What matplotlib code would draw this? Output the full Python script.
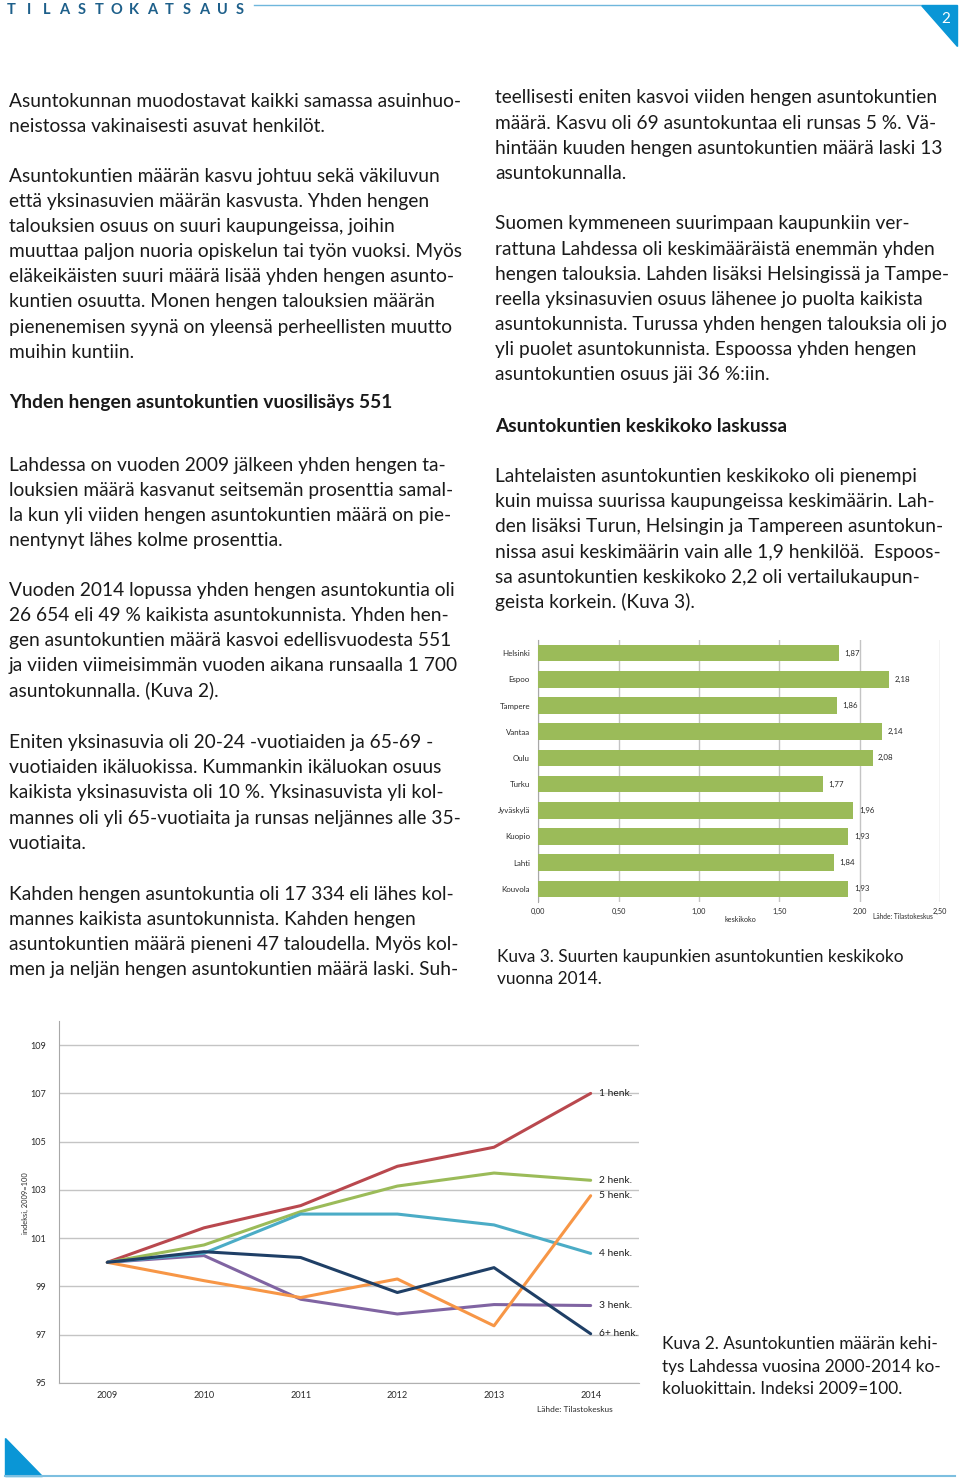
import matplotlib
matplotlib.use("Agg")
import matplotlib.pyplot as plt
from matplotlib.patches import Polygon

W, H = 960, 1479
FONT = ["Lato", "DejaVu Sans"]

# ---------------- data ----------------
cities = ["Helsinki", "Espoo", "Tampere", "Vantaa", "Oulu", "Turku",
          "Jyväskylä", "Kuopio", "Lahti", "Kouvola"]
avg_size = [1.87, 2.18, 1.86, 2.14, 2.08, 1.77, 1.96, 1.93, 1.84, 1.93]
bar_xticks = [0.0, 0.5, 1.0, 1.5, 2.0, 2.5]
bar_xticklabels = ["0,00", "0,50", "1,00", "1,50", "2,00", "2,50"]

years = [2009, 2010, 2011, 2012, 2013, 2014]
idx_1 = [100, 101.43, 102.35, 103.98, 104.77, 107.0]
idx_2 = [100, 100.72, 102.1, 103.16, 103.7, 103.4]
idx_3 = [100, 100.28, 98.47, 97.86, 98.25, 98.21]
idx_4 = [100, 100.38, 102.0, 102.0, 101.55, 100.37]
idx_5 = [100, 99.24, 98.54, 99.31, 97.37, 102.76]
idx_6 = [100, 100.44, 100.2, 98.75, 99.78, 97.04]
series_labels = ["1 henk.", "2 henk.", "3 henk.", "4 henk.", "5 henk.", "6+ henk."]
line_yticks = [95, 97, 99, 101, 103, 105, 107, 109]

left_col = [
    "Asuntokunnan muodostavat kaikki samassa asuinhuo-",
    "neistossa vakinaisesti asuvat henkilöt.",
    "",
    "Asuntokuntien määrän kasvu johtuu sekä väkiluvun",
    "että yksinasuvien määrän kasvusta. Yhden hengen",
    "talouksien osuus on suuri kaupungeissa, joihin",
    "muuttaa paljon nuoria opiskelun tai työn vuoksi. Myös",
    "eläkeikäisten suuri määrä lisää yhden hengen asunto-",
    "kuntien osuutta. Monen hengen talouksien määrän",
    "pienenemisen syynä on yleensä perheellisten muutto",
    "muihin kuntiin.",
]
left_head = "Yhden hengen asuntokuntien vuosilisäys 551"
left_col2 = [
    ("Lahdessa on vuoden 2009 jälkeen yhden hengen ta-", 470.7),
    ("louksien määrä kasvanut seitsemän prosenttia samal-", 495.8),
    ("la kun yli viiden hengen asuntokuntien määrä on pie-", 520.9),
    ("nentynyt lähes kolme prosenttia.", 546.0),
    ("Vuoden 2014 lopussa yhden hengen asuntokuntia oli", 595.6),
    ("26 654 eli 49 % kaikista asuntokunnista. Yhden hen-", 620.7),
    ("gen asuntokuntien määrä kasvoi edellisvuodesta 551", 645.8),
    ("ja viiden viimeisimmän vuoden aikana runsaalla 1 700", 670.9),
    ("asuntokunnalla. (Kuva 2).", 696.0),
    ("Eniten yksinasuvia oli 20-24 -vuotiaiden ja 65-69 -", 748.3),
    ("vuotiaiden ikäluokissa. Kummankin ikäluokan osuus", 773.4),
    ("kaikista yksinasuvista oli 10 %. Yksinasuvista yli kol-", 798.5),
    ("mannes oli yli 65-vuotiaita ja runsas neljännes alle 35-", 823.6),
    ("vuotiaita.", 848.7),
    ("Kahden hengen asuntokuntia oli 17 334 eli lähes kol-", 900.0),
    ("mannes kaikista asuntokunnista. Kahden hengen", 925.1),
    ("asuntokuntien määrä pieneni 47 taloudella. Myös kol-", 950.2),
    ("men ja neljän hengen asuntokuntien määrä laski. Suh-", 975.3),
]
right_col = [
    ("teellisesti eniten kasvoi viiden hengen asuntokuntien", 103.5),
    ("määrä. Kasvu oli 69 asuntokuntaa eli runsas 5 %. Vä-", 128.6),
    ("hintään kuuden hengen asuntokuntien määrä laski 13", 153.7),
    ("asuntokunnalla.", 178.8),
    ("Suomen kymmeneen suurimpaan kaupunkiin ver-", 229.5),
    ("rattuna Lahdessa oli keskimääräistä enemmän yhden", 254.6),
    ("hengen talouksia. Lahden lisäksi Helsingissä ja Tampe-", 279.7),
    ("reella yksinasuvien osuus lähenee jo puolta kaikista", 304.8),
    ("asuntokunnista. Turussa yhden hengen talouksia oli jo", 329.9),
    ("yli puolet asuntokunnista. Espoossa yhden hengen", 355.0),
    ("asuntokuntien osuus jäi 36 %:iin.", 380.1),
    ("Lahtelaisten asuntokuntien keskikoko oli pienempi", 482.0),
    ("kuin muissa suurissa kaupungeissa keskimäärin. Lah-", 507.2),
    ("den lisäksi Turun, Helsingin ja Tampereen asuntokun-", 532.4),
    ("nissa asui keskimäärin vain alle 1,9 henkilöä.  Espoos-", 557.6),
    ("sa asuntokuntien keskikoko 2,2 oli vertailukaupun-", 582.8),
    ("geista korkein. (Kuva 3).", 608.0),
]
right_head = "Asuntokuntien keskikoko laskussa"
cap3 = ["Kuva 3. Suurten kaupunkien asuntokuntien keskikoko", "vuonna 2014."]
cap2 = ["Kuva 2. Asuntokuntien määrän kehi-", "tys Lahdessa vuosina 2000-2014 ko-",
        "koluokittain. Indeksi 2009=100."]
header = "TILASTOKATSAUS"

# ---------------- figure ----------------
fig = plt.figure(figsize=(W / 100, H / 100), dpi=100)
renderer = fig.canvas.get_renderer()


def fit_size(s, target_px, weight="normal"):
    t = fig.text(0, 0, s, fontsize=10, family=FONT, weight=weight)
    w = t.get_window_extent(renderer).width
    t.remove()
    return 10 * target_px / w


BODY = fit_size(left_col[0], 452.5)
CAP = fit_size(cap3[0], 406)
TXT = "#1a1a1a"


def T(x, yb, s, size=None, weight="normal", color=TXT, ha="left", **kw):
    fig.text(x / W, 1 - yb / H, s, fontsize=size or BODY, family=FONT,
             weight=weight, color=color, ha=ha, va="baseline", **kw)


# body text
for i, s in enumerate(left_col):
    if s:
        T(9, 106.7 + 25.1 * i, s)
T(9, 408.3, left_head, weight="bold")
for s, yb in left_col2:
    T(9, yb, s)
for s, yb in right_col:
    T(495, yb, s)
T(495, 431.7, right_head, weight="bold")
for i, s in enumerate(cap3):
    T(497, 961.7 + 22.7 * i, s, size=CAP)
for i, s in enumerate(cap2):
    T(662, 1349 + 22.7 * i, s, size=CAP)

# header (letter-spaced title)
BLUE = "#0a96d6"
for i, ch in enumerate(header):
    fig.text((11 + 17.6 * i) / W, 1 - 10 / H, ch, fontsize=10.5, family=FONT,
             weight="bold", color="#1d5f8a", ha="center", va="center")
fig.add_artist(plt.Line2D([254 / W, 920 / W], [1 - 5 / H, 1 - 5 / H],
                          color="#6fb7dc", lw=1.0))
fig.add_artist(Polygon([[921 / W, 1 - 5 / H], [957 / W, 1 - 5 / H], [957 / W, 1 - 46 / H]],
                       closed=True, color=BLUE, transform=fig.transFigure))
fig.text(946 / W, 1 - 19 / H, "2", fontsize=11, family=FONT, color="white",
         ha="center", va="center")
# footer
fig.add_artist(Polygon([[5 / W, 1 - 1438 / H], [5 / W, 1 - 1476 / H], [42 / W, 1 - 1476 / H]],
                       closed=True, color=BLUE, transform=fig.transFigure))
fig.add_artist(plt.Line2D([5 / W, 955 / W], [1 - 1476 / H, 1 - 1476 / H],
                          color="#7dbfe0", lw=1.5))

# ---------------- bar chart ----------------
GRID = "#c4c4c4"
SMALL = "#2a2a2a"
ax3 = fig.add_axes([538.3 / W, 1 - 902 / H, 401.7 / W, 262 / H])
pos = list(range(len(cities)))
ax3.barh(pos, avg_size, height=0.64, color="#9bbb59", zorder=3)
ax3.set_xlim(0, 2.5)
ax3.set_ylim(len(cities) - 0.5, -0.5)
ax3.set_yticks(pos)
ax3.set_yticklabels(cities, fontsize=5.7, family=FONT, color=SMALL)
ax3.set_xticks(bar_xticks)
ax3.set_xticklabels(bar_xticklabels, fontsize=5.3, family=FONT, color=SMALL)
ax3.tick_params(axis="both", length=0)
ax3.tick_params(axis="y", pad=6)
ax3.tick_params(axis="x", pad=4)
ax3.grid(axis="x", color=GRID, lw=1.0, zorder=0)
for sp in ["top", "right", "bottom"]:
    ax3.spines[sp].set_visible(False)
ax3.spines["left"].set_color("#a8a8a8")
for p, v in zip(pos, avg_size):
    ax3.text(v + 0.035, p, f"{v:.2f}".replace(".", ","), fontsize=5.7, family=FONT,
             color=SMALL, va="center", ha="left")
fig.text(740 / W, 1 - 919 / H, "keskikoko", fontsize=5.2, family=FONT, color=SMALL,
         ha="center", va="center")
fig.text(903 / W, 1 - 916 / H, "Lähde: Tilastokeskus", fontsize=4.8, family=FONT,
         color=SMALL, ha="center", va="center")

# ---------------- line chart ----------------
ax2 = fig.add_axes([59 / W, 1 - 1383 / H, 580 / W, 362 / H])
series = [idx_1, idx_2, idx_3, idx_4, idx_5, idx_6]
colors = ["#b9484e", "#9bbb59", "#8064a2", "#4bacc6", "#f79646", "#1f3f66"]
order = [4, 3, 2, 5, 1, 0]  # drawing order (last on top)
for k in order:
    ax2.plot(years, series[k], color=colors[k], lw=2.2, solid_capstyle="round", zorder=3 + k)
    ax2.text(years[-1] + 0.09, series[k][-1], series_labels[k], fontsize=7.4, family=FONT,
             color="#1e1e1e", va="center", ha="left")
ax2.set_xlim(2008.5, 2014.5)
ax2.set_ylim(95, 110)
ax2.set_yticks(line_yticks)
ax2.set_yticklabels([str(v) for v in line_yticks], fontsize=6.6, family=FONT, color=SMALL)
ax2.set_xticks(years)
ax2.set_xticklabels([str(y) for y in years], fontsize=6.6, family=FONT, color=SMALL)
ax2.tick_params(axis="both", length=0)
ax2.tick_params(axis="y", pad=9)
ax2.tick_params(axis="x", pad=6)
ax2.grid(axis="y", color=GRID, lw=1.0, zorder=0)
for sp in ["top", "right"]:
    ax2.spines[sp].set_visible(False)
ax2.spines["left"].set_color("#a8a8a8")
ax2.spines["bottom"].set_color("#b0b0b0")
fig.text(25 / W, 1 - 1203 / H, "indeksi, 2009=100", fontsize=5.4, family=FONT,
         color=SMALL, rotation=90, ha="center", va="center")
fig.text(575 / W, 1 - 1409 / H, "Lähde: Tilastokeskus", fontsize=6.0, family=FONT,
         color=SMALL, ha="center", va="center")

fig.savefig("out.png", dpi=100, facecolor="white")
